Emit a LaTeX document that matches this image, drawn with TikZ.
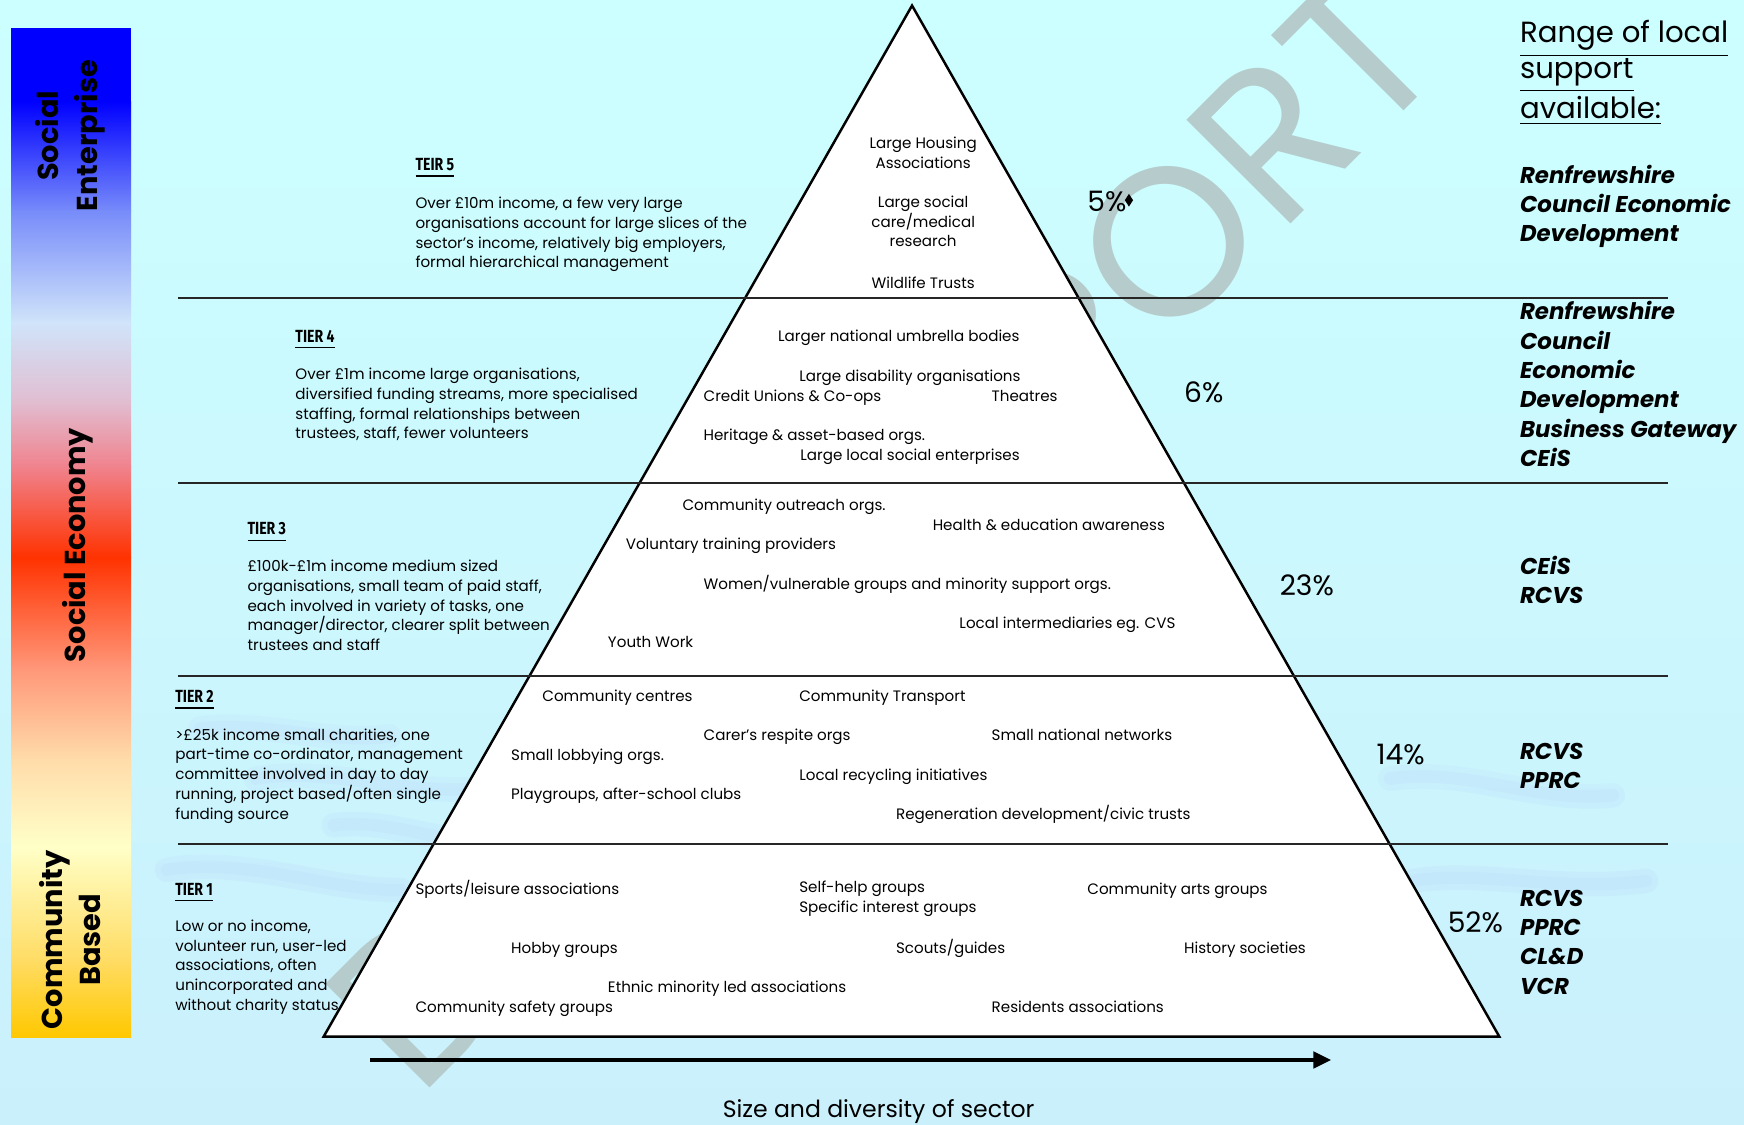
\documentclass[tikz,border=0pt]{standalone}
\usepackage{fontspec}
\setmainfont{Poppins}
\newfontfamily\tierfont[FakeStretch=0.8]{Fira Sans}
\usetikzlibrary{arrows.meta,shapes.geometric}

\definecolor{sky}{RGB}{204,255,255}
\definecolor{skylow}{RGB}{202,240,252}
\definecolor{ripple}{RGB}{160,170,240}
\definecolor{stamp}{RGB}{182,204,204}
\definecolor{g0}{RGB}{0,0,255}
\definecolor{g1}{RGB}{120,140,250}
\definecolor{g2}{RGB}{208,228,250}
\definecolor{g3}{RGB}{225,190,210}
\definecolor{g4}{RGB}{240,130,140}
\definecolor{g5}{RGB}{255,50,0}
\definecolor{g6}{RGB}{255,150,120}
\definecolor{g7}{RGB}{255,220,170}
\definecolor{g8}{RGB}{255,255,200}
\definecolor{g9}{RGB}{255,220,100}
\definecolor{g10}{RGB}{255,200,0}

\begin{document}
\begin{tikzpicture}[
  x=0.1112mm, y=-0.1112mm,
  > = {Triangle[length=1.8mm,width=1.6mm]},
  small/.style = {font=\fontsize{4.3}{5.6}\selectfont, inner sep=0pt},
  item/.style = {small, anchor=base west},
  block/.style = {small, anchor=north west, align=left, execute at begin node=\strut},
  cblock/.style = {block, anchor=north, align=center},
  tier/.style = {anchor=base west, inner sep=0pt, font=\tierfont\bfseries\fontsize{5}{6}\selectfont},
  pct/.style = {anchor=base west, inner sep=0pt, font=\fontsize{8}{9}\selectfont},
  help/.style = {anchor=north west, inner sep=0pt, align=left, execute at begin node=\strut, font=\bfseries\itshape\fontsize{6.5}{8.35}\selectfont},
  band/.style = {rotate=90, align=center, inner sep=0pt, font=\bfseries\fontsize{8.2}{11}\selectfont},
  rule/.style = {line width=0.6pt, draw=black!85},
  wave/.style = {ripple, line width=7pt, line cap=round, opacity=0.07}
  ]
  \useasboundingbox (0,0) rectangle (1568,1011);
  \shade[top color=sky, bottom color=skylow] (0,0) rectangle (1568,1011);
  % faint ripples in the background
  \foreach \w in {7pt,3.5pt} {
    \draw[wave, line width=\w] (230,700) .. controls (300,688) and (380,722) .. (460,705);
    \draw[wave, line width=\w] (300,742) .. controls (360,734) and (420,772) .. (520,760);
    \draw[wave, line width=\w] (150,782) .. controls (220,770) and (300,802) .. (360,800);
    \draw[wave, line width=\w] (180,655) .. controls (240,648) and (300,670) .. (350,662);
    \draw[wave, line width=\w] (1250,700) .. controls (1320,690) and (1380,722) .. (1450,715);
    \draw[wave, line width=\w] (1270,792) .. controls (1330,782) and (1400,802) .. (1480,792);
  }

  % colour bar on the left
  \fill[g0] (10,25) rectangle (118,92);
  \foreach \ya/\yb/\ca/\cb in {91/190/g0/g1, 190/290/g1/g2, 290/360/g2/g3, 360/420/g3/g4,
    420/501/g4/g5, 501/600/g5/g6, 600/683/g6/g7, 683/761/g7/g8, 761/863/g8/g9, 863/932/g9/g10}
    \shade[top color=\ca, bottom color=\cb] (10,\ya) rectangle (118,\yb+0.5);
  \node[band] (bandtop) at (63,122) {Social\\Enterprise};
  \node[band] (bandmid) at (70,490) {Social Economy};
  \node[band] (bandlow) at (63,845) {Community\\Based};

  \node[rotate=45.1, anchor=base, inner sep=0pt, text=stamp, font=\fontsize{60}{64}\selectfont] (stamp) at (840,523) {DRAFT REPORT};

  % pyramid
  \coordinate (apex) at (820,5);
  \coordinate (baseL) at (291,932);
  \coordinate (baseR) at (1348,932);
  \draw[fill=white, line width=0.7pt] (apex) -- (baseL) -- (baseR) -- cycle;
  \foreach \y in {268,434,608,759}
    \draw[rule] (160,\y) -- (1500,\y);

  \coordinate (grow0) at (333,953);
  \coordinate (grow1) at (1197,953);
  \draw[->, line width=1.4pt] (grow0) -- (grow1);
  \node[anchor=base, inner sep=0pt, font=\fontsize{6.7}{8}\selectfont] (size) at (790,1005) {Size and diversity of sector};

  % tiers
  \node[tier] (h5) at (373,153.6) {\underline{TEIR 5}};
  \node[tier] (h4) at (265,308) {\underline{TIER 4}};
  \node[tier] (h3) at (222,481) {\underline{TIER 3}};
  \node[tier] (h2) at (157,632) {\underline{TIER 2}};
  \node[tier] (h1) at (157,805) {\underline{TIER 1}};

  \node[block] (d5) at (373,176.6) {Over £10m income, a few very large\\organisations account for large slices of the\\sector's income, relatively big employers,\\formal hierarchical management};
  \node[block] (d4) at (265,330.6) {Over £1m income large organisations,\\diversified funding streams, more specialised\\staffing, formal relationships between\\trustees, staff, fewer volunteers};
  \node[block] (d3) at (222,503.1) {£100k-£1m income medium sized\\organisations, small team of paid staff,\\each involved in variety of tasks, one\\manager/director, clearer split between\\trustees and staff};
  \node[block] (d2) at (157,654.6) {>£25k income small charities, one\\part-time co-ordinator, management\\committee involved in day to day\\running, project based/often single\\funding source};
  \node[block] (d1) at (157,826.6) {Low or no income,\\volunteer run, user-led\\associations, often\\unincorporated and\\without charity status};

  % tier 5 contents
  \node[cblock] (i5a) at (830,122.6) {Large Housing\\Associations};
  \node[cblock] (i5b) at (830,175.6) {Large social\\care/medical\\research};
  \node[item, anchor=base] (i5c) at (830,259) {Wildlife Trusts};
  % tier 4 contents
  \node[item] (i4a) at (699,307) {Larger national umbrella bodies};
  \node[item] (i4b) at (718,343) {Large disability organisations};
  \node[item] (i4c) at (632,361) {Credit Unions \& Co-ops};
  \node[item] (i4d) at (891,361) {Theatres};
  \node[item] (i4e) at (632,396) {Heritage \& asset-based orgs.};
  \node[item] (i4f) at (719,414) {Large local social enterprises};
  % tier 3 contents
  \node[item] (i3a) at (613,459) {Community outreach orgs.};
  \node[item] (i3b) at (838,477) {Health \& education awareness};
  \node[item] (i3c) at (562,494) {Voluntary training providers};
  \node[item] (i3d) at (632,530) {Women/vulnerable groups and minority support orgs.};
  \node[item] (i3e) at (862,565) {Local intermediaries eg. CVS};
  \node[item] (i3f) at (546,582) {Youth Work};
  % tier 2 contents
  \node[item] (i2a) at (487,631) {Community centres};
  \node[item] (i2b) at (718,631) {Community Transport};
  \node[item] (i2c) at (632,666) {Carer's respite orgs};
  \node[item] (i2d) at (891,666) {Small national networks};
  \node[item] (i2e) at (459,684) {Small lobbying orgs.};
  \node[item] (i2f) at (718,702) {Local recycling initiatives};
  \node[item] (i2g) at (459,719) {Playgroups, after-school clubs};
  \node[item] (i2h) at (805,737) {Regeneration development/civic trusts};
  % tier 1 contents
  \node[item] (i1a) at (373,804) {Sports/leisure associations};
  \node[block] (i1b) at (718,791.6) {Self-help groups\\Specific interest groups};
  \node[item] (i1c) at (977,804) {Community arts groups};
  \node[item] (i1d) at (459,857) {Hobby groups};
  \node[item] (i1e) at (805,857) {Scouts/guides};
  \node[item] (i1f) at (1064,857) {History societies};
  \node[item] (i1g) at (546,892) {Ethnic minority led associations};
  \node[item] (i1h) at (373,910) {Community safety groups};
  \node[item] (i1i) at (891,910) {Residents associations};

  % shares
  \node[pct] (p5) at (977,190) {5\%};
  \node[diamond, fill=black, inner sep=0pt, minimum width=2.5pt, minimum height=3.8pt] (tick) at (1015,180) {};
  \node[pct] (p4) at (1064,362) {6\%};
  \node[pct] (p3) at (1150,535) {23\%};
  \node[pct] (p2) at (1237,687) {14\%};
  \node[pct] (p1) at (1301,838) {52\%};

  % local support
  \node[anchor=north west, inner sep=0pt, align=left, execute at begin node=\strut, font=\fontsize{8.3}{10.1}\selectfont] (range) at (1366,17.6) {\underline{Range of local}\\\underline{support}\\\underline{available:}};
  \node[help] (s5) at (1366,147.5) {Renfrewshire\\Council Economic\\Development};
  \node[help] (s4) at (1366,270.5) {Renfrewshire\\Council\\Economic\\Development\\Business Gateway\\CEiS};
  \node[help] (s3) at (1366,499.5) {CEiS\\RCVS};
  \node[help] (s2) at (1366,667.5) {RCVS\\PPRC};
  \node[help] (s1) at (1366,799.5) {RCVS\\PPRC\\CL\&D\\VCR};
\end{tikzpicture}
\end{document}
